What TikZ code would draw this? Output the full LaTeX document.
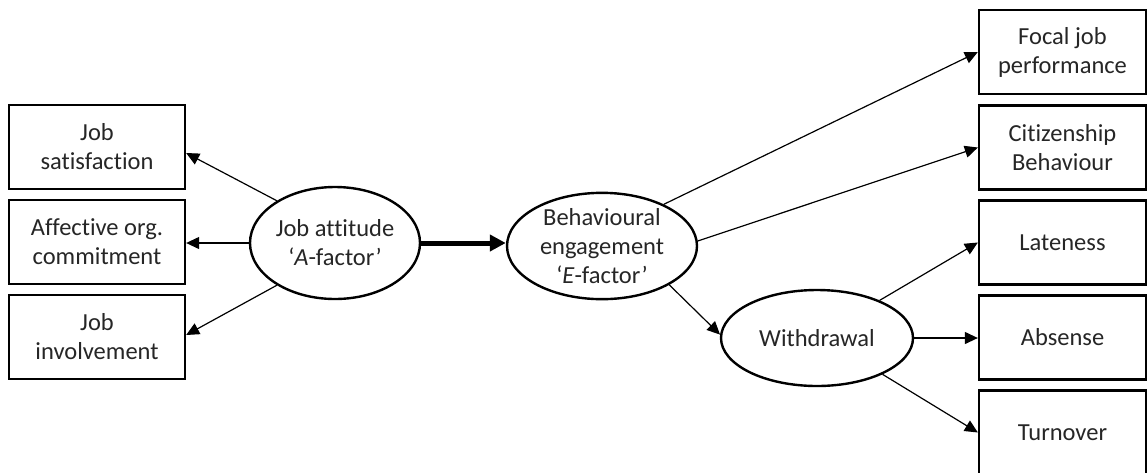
\documentclass[tikz,border=0pt]{standalone}
\usepackage{fontspec}
\setmainfont{Carlito}[Ligatures={NoCommon}]
\usetikzlibrary{arrows.meta,shapes.geometric,calc}
\tikzset{
  box/.style={draw, line width=2.3pt, rectangle, minimum height=84pt, inner sep=0pt, align=center, text=black!85},
  lbox/.style={box, minimum width=176pt},
  rbox/.style={box, minimum width=167pt},
  latent/.style={draw, line width=2.4pt, ellipse, inner sep=0pt, align=center, text=black!85},
  link/.style={line width=1.2pt, -{Triangle[length=13pt,width=12pt]}},
  mainlink/.style={line width=5pt, -{Triangle[length=16pt,width=16pt]}},
}
\begin{document}
\begin{tikzpicture}[x=1pt,y=-1pt, font=\fontsize{24.5}{29}\selectfont]
\useasboundingbox (0,0) rectangle (1148,472);
\clip (0,0) rectangle (1148,472);
\fill[white] (0,0) rectangle (1148,472);

% indicators of the attitude factor
\node[lbox] (sat) at (97,147) {Job\\satisfaction};
\node[lbox] (com) at (97,242) {Affective org.\\commitment};
\node[lbox] (inv) at (97,337) {Job\\involvement};

% latent factors
\node[latent, minimum width=170pt, minimum height=112pt] (A) at (335,243) {Job attitude\\‘\textit{A}-factor’};
\node[latent, minimum width=190pt, minimum height=104pt] (E) at (602,246) {Behavioural\\engagement\\‘\textit{E}-factor’};
\node[latent, minimum width=192pt, minimum height=96pt] (W) at (817,338) {Withdrawal};

% behavioural outcomes
\node[rbox] (foc) at (1062.5,52) {Focal job\\performance};
\node[rbox] (cit) at (1062.5,147.5) {Citizenship\\Behaviour};
\node[rbox] (lat) at (1062.5,242.5) {Lateness};
\node[rbox] (abs) at (1062.5,337.5) {Absense};
\node[rbox] (tur) at (1062.5,432.5) {Turnover};

% loadings
\draw[link] (A.144) -- ([yshift=-6pt]sat.east);
\draw[link] (A.west) -- (A.west -| com.east);
\draw[link] (A.216) -- ([yshift=2pt]inv.east);

\draw[mainlink] (A.east) -- (A.east -| E.west);

\draw[link] (E.34) -- (foc.west);
\draw[link] (E.3) -- (cit.west);
\draw[link] (E.-30) -- (W.178);

\draw[link] (W.31) -- (lat.west);
\draw[link] (W.east) -- (W.east -| abs.west);
\draw[link] (W.-29) -- (tur.west);
\end{tikzpicture}
\end{document}
